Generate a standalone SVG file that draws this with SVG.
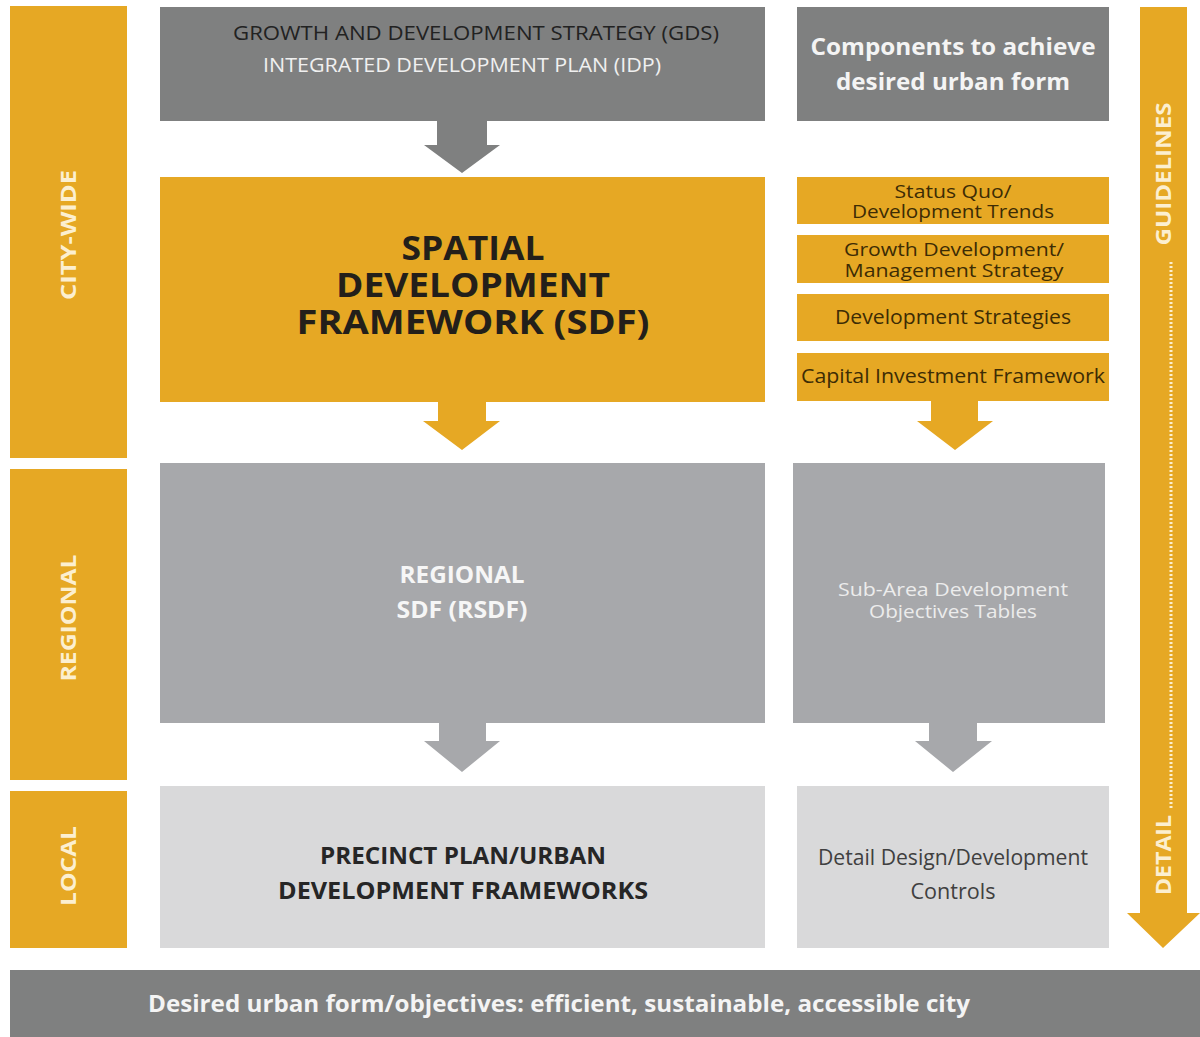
<svg xmlns="http://www.w3.org/2000/svg" width="1200" height="1037" viewBox="0 0 1200 1037">
<style>
.or{fill:#e6a824}
.dg{fill:#7f8080}
.mg{fill:#a7a8ab}
.lg{fill:#d9d9da}
text{font-family:"Open Sans","Liberation Sans",sans-serif;text-anchor:middle}
.side{font-size:22px;font-weight:bold;fill:#fcefd0}
.b{font-weight:bold}
.comp{font-size:20px;fill:#3d2c05}
.comp2{font-size:18px;fill:#3d2c05}
</style>
<rect width="1200" height="1037" fill="#ffffff"/>
<g id="level-city-wide"><rect class="or" x="10" y="6" width="117" height="452"/><text class="side" transform="translate(76,235) rotate(-90)" textLength="130" lengthAdjust="spacingAndGlyphs">CITY-WIDE</text></g>
<g id="level-regional"><rect class="or" x="10" y="469" width="117" height="311"/><text class="side" transform="translate(76,618) rotate(-90)" textLength="127" lengthAdjust="spacingAndGlyphs">REGIONAL</text></g>
<g id="level-local"><rect class="or" x="10" y="791" width="117" height="157"/><text class="side" transform="translate(76,866) rotate(-90)" textLength="80" lengthAdjust="spacingAndGlyphs">LOCAL</text></g>

<g id="gds-idp"><rect class="dg" x="160" y="7" width="605" height="114"/>
<text x="476" y="40" font-size="20" fill="#222" textLength="486" lengthAdjust="spacingAndGlyphs">GROWTH AND  DEVELOPMENT STRATEGY (GDS)</text>
<text x="462" y="72" font-size="20" fill="#f0f0f0" textLength="398" lengthAdjust="spacingAndGlyphs">INTEGRATED DEVELOPMENT PLAN (IDP)</text></g>
<g id="components"><rect class="dg" x="797" y="7" width="312" height="114"/>
<text class="b" x="953" y="55" font-size="24" fill="#f4f4f4" textLength="285" lengthAdjust="spacingAndGlyphs">Components to achieve</text>
<text class="b" x="953" y="90" font-size="24" fill="#f4f4f4" textLength="234" lengthAdjust="spacingAndGlyphs">desired urban form</text></g>

<g id="sdf"><rect class="or" x="160" y="177" width="605" height="225"/>
<text class="b" x="473" y="260" font-size="34" fill="#231f1a" textLength="143" lengthAdjust="spacingAndGlyphs">SPATIAL</text>
<text class="b" x="473" y="297" font-size="34" fill="#231f1a" textLength="274" lengthAdjust="spacingAndGlyphs">DEVELOPMENT</text>
<text class="b" x="473" y="334" font-size="34" fill="#231f1a" textLength="353" lengthAdjust="spacingAndGlyphs">FRAMEWORK (SDF)</text></g>

<g id="status-quo"><rect class="or" x="797" y="177" width="312" height="47"/>
<text class="comp2" x="953" y="198" textLength="117" lengthAdjust="spacingAndGlyphs">Status Quo/</text>
<text class="comp2" x="953" y="218" textLength="202" lengthAdjust="spacingAndGlyphs">Development Trends</text></g>
<g id="growth-management"><rect class="or" x="797" y="235" width="312" height="48"/>
<text class="comp2" x="954" y="256" textLength="220" lengthAdjust="spacingAndGlyphs">Growth Development/</text>
<text class="comp2" x="954" y="277" textLength="219" lengthAdjust="spacingAndGlyphs">Management Strategy</text></g>
<g id="development-strategies"><rect class="or" x="797" y="294" width="312" height="47"/>
<text class="comp" x="953" y="324" textLength="236" lengthAdjust="spacingAndGlyphs">Development Strategies</text></g>
<g id="capital-investment"><rect class="or" x="797" y="353" width="312" height="48"/>
<text class="comp" x="953" y="383" textLength="304" lengthAdjust="spacingAndGlyphs">Capital Investment Framework</text></g>

<g id="rsdf"><rect class="mg" x="160" y="463" width="605" height="260"/>
<text class="b" x="462" y="583" font-size="23" fill="#f6f6f6" textLength="125" lengthAdjust="spacingAndGlyphs">REGIONAL</text>
<text class="b" x="462" y="618" font-size="23" fill="#f6f6f6" textLength="131" lengthAdjust="spacingAndGlyphs">SDF (RSDF)</text></g>
<g id="sub-area"><rect class="mg" x="793" y="463" width="312" height="260"/>
<text x="953" y="596" font-size="19" fill="#ececec" textLength="230" lengthAdjust="spacingAndGlyphs">Sub-Area Development</text>
<text x="953" y="618" font-size="19" fill="#ececec" textLength="168" lengthAdjust="spacingAndGlyphs">Objectives Tables</text></g>

<g id="precinct"><rect class="lg" x="160" y="786" width="605" height="162"/>
<text class="b" x="463" y="864" font-size="24" fill="#262626" textLength="286" lengthAdjust="spacingAndGlyphs">PRECINCT PLAN/URBAN</text>
<text class="b" x="463" y="899" font-size="24" fill="#262626" textLength="370" lengthAdjust="spacingAndGlyphs">DEVELOPMENT FRAMEWORKS</text></g>
<g id="detail-design"><rect class="lg" x="797" y="786" width="312" height="162"/>
<text x="953" y="865" font-size="21" fill="#404040" textLength="270" lengthAdjust="spacingAndGlyphs">Detail Design/Development</text>
<text x="953" y="899" font-size="21" fill="#404040" textLength="85" lengthAdjust="spacingAndGlyphs">Controls</text></g>

<g id="objectives"><rect class="dg" x="10" y="970" width="1190" height="67"/>
<text class="b" x="559" y="1012" font-size="24" fill="#f4f4f4" textLength="822" lengthAdjust="spacingAndGlyphs">Desired urban form/objectives: efficient, sustainable, accessible city</text></g>

<g id="guidelines-detail">
<path class="or" d="M1140,7 H1187 V913 H1200 L1163,948 L1127,913 H1140 Z"/>
<text class="side" transform="translate(1171,174) rotate(-90)" textLength="143" lengthAdjust="spacingAndGlyphs">GUIDELINES</text>
<line x1="1171" y1="262" x2="1171" y2="808" stroke="#fcefd0" stroke-width="3" stroke-dasharray="2 2"/>
<text class="side" transform="translate(1171,855) rotate(-90)" textLength="80" lengthAdjust="spacingAndGlyphs">DETAIL</text>
</g>

<g id="connectors">
<path class="dg" d="M437,121 H487 V145 H500 L462,173 L424,145 H437 Z"/>
<path class="or" d="M438,402 H486 V421 H500 L462,450 L423,421 H438 Z"/>
<path class="or" d="M931,401 H978 V421 H993 L955,450 L917,421 H931 Z"/>
<path class="mg" d="M439,723 H486 V741 H500 L462,772 L424,741 H439 Z"/>
<path class="mg" d="M929,723 H977 V741 H992 L953,772 L915,741 H929 Z"/>
</g>
</svg>
